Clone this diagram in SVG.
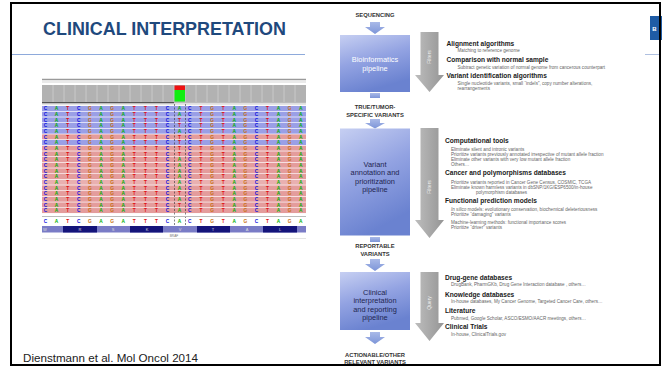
<svg xmlns="http://www.w3.org/2000/svg" xmlns:xlink="http://www.w3.org/1999/xlink" width="666" height="367" viewBox="0 0 666 367">
<style>
.ttl{font-family:"Liberation Sans",Arial,sans-serif;font-weight:bold;font-size:17.6px;fill:#1F497D}
.cit{font-family:"Liberation Sans",Arial,sans-serif;font-size:11.5px;fill:#222}
.lb{font-family:"Liberation Sans",Arial,sans-serif;font-weight:bold;font-size:5.8px;fill:#333;text-anchor:middle}
.bx{font-family:"Liberation Sans",Arial,sans-serif;font-size:7.4px;fill:#1e2550;text-anchor:middle}
.bxw{font-family:"Liberation Sans",Arial,sans-serif;font-size:7.4px;fill:#ffffff;text-anchor:middle}
.hd{font-family:"Liberation Sans",Arial,sans-serif;font-weight:bold;font-size:6.6px;fill:#1a1a1a}
.sb{font-family:"Liberation Sans",Arial,sans-serif;font-size:4.6px;fill:#666}
.gl{font-family:"Liberation Sans",Arial,sans-serif;font-size:5px;fill:#eeeeee;text-anchor:middle}
.nt{font-family:"Liberation Sans",Arial,sans-serif;font-weight:bold;font-size:4.8px;text-anchor:middle}
.C{fill:#1010e0}.A{fill:#00b000}.T{fill:#e01010}.G{fill:#c87010}
.aa{font-family:"Liberation Sans",Arial,sans-serif;font-size:4px;fill:#ddd;text-anchor:middle}
.rb{fill:#9a9fe6}.rr{fill:#e49c9c}
.barrow{fill:url(#gb)}
.garrow{fill:url(#gg)}
.box{fill:url(#gbox)}
</style>
<defs>
<linearGradient id="gbox" x1="0" y1="0" x2="0.35" y2="1">
<stop offset="0" stop-color="#c6cff2"/><stop offset="0.5" stop-color="#93a3e2"/><stop offset="1" stop-color="#6a82d0"/>
</linearGradient>
<linearGradient id="gb" x1="0" y1="0" x2="0" y2="1">
<stop offset="0" stop-color="#a9b9e8"/><stop offset="1" stop-color="#7d95d8"/>
</linearGradient>
<linearGradient id="gg" x1="0" y1="0" x2="1" y2="0">
<stop offset="0" stop-color="#bdbdbd"/><stop offset="1" stop-color="#959595"/>
</linearGradient>
<g id="rowA">
<text class="nt"><tspan class="C" x="45.5">C</tspan><tspan class="A" x="56.6">A</tspan><tspan class="T" x="67.7">T</tspan><tspan class="C" x="78.8">C</tspan><tspan class="G" x="89.9">G</tspan><tspan class="A" x="101">A</tspan><tspan class="G" x="112.1">G</tspan><tspan class="A" x="123.2">A</tspan><tspan class="T" x="134.3">T</tspan><tspan class="T" x="145.4">T</tspan><tspan class="T" x="156.5">T</tspan><tspan class="C" x="167.6">C</tspan><tspan class="A" x="179.5">A</tspan><tspan class="C" x="189.8">C</tspan><tspan class="T" x="200.9">T</tspan><tspan class="G" x="212">G</tspan><tspan class="T" x="223.1">T</tspan><tspan class="A" x="234.2">A</tspan><tspan class="G" x="245.3">G</tspan><tspan class="C" x="256.4">C</tspan><tspan class="T" x="267.5">T</tspan><tspan class="A" x="278.6">A</tspan><tspan class="G" x="289.7">G</tspan><tspan class="A" x="300.8">A</tspan></text>
</g>
<g id="rowT">
<text class="nt"><tspan class="C" x="45.5">C</tspan><tspan class="A" x="56.6">A</tspan><tspan class="T" x="67.7">T</tspan><tspan class="C" x="78.8">C</tspan><tspan class="G" x="89.9">G</tspan><tspan class="A" x="101">A</tspan><tspan class="G" x="112.1">G</tspan><tspan class="A" x="123.2">A</tspan><tspan class="T" x="134.3">T</tspan><tspan class="T" x="145.4">T</tspan><tspan class="T" x="156.5">T</tspan><tspan class="C" x="167.6">C</tspan><tspan class="T" x="179.5">T</tspan><tspan class="C" x="189.8">C</tspan><tspan class="T" x="200.9">T</tspan><tspan class="G" x="212">G</tspan><tspan class="T" x="223.1">T</tspan><tspan class="A" x="234.2">A</tspan><tspan class="G" x="245.3">G</tspan><tspan class="C" x="256.4">C</tspan><tspan class="T" x="267.5">T</tspan><tspan class="A" x="278.6">A</tspan><tspan class="G" x="289.7">G</tspan><tspan class="A" x="300.8">A</tspan></text>
</g>
</defs>

<rect x="0" y="0" width="666" height="367" fill="#fff"/>

<!-- title -->
<g id="title">
<text class="ttl" x="43" y="35" textLength="243" lengthAdjust="spacingAndGlyphs">CLINICAL INTERPRETATION</text>
<line x1="12" y1="54.5" x2="305" y2="54.5" stroke="#8eaadb" stroke-width="1"/>
</g>

<!-- IGV screenshot -->
<g id="igv">
<line x1="42" y1="79.5" x2="306" y2="79.5" stroke="#9a9a9a" stroke-width="1.5"/>
<line x1="42" y1="82" x2="306" y2="82" stroke="#d5d5d5" stroke-width="1"/>
<rect x="42" y="85" width="264" height="17" fill="#b2b2b2"/>
<g stroke="#cfcfcf" stroke-width="0.8">
<line x1="53" y1="85" x2="53" y2="102"/><line x1="64" y1="85" x2="64" y2="102"/><line x1="75" y1="85" x2="75" y2="102"/><line x1="86" y1="85" x2="86" y2="102"/><line x1="97" y1="85" x2="97" y2="102"/><line x1="108" y1="85" x2="108" y2="102"/><line x1="119" y1="85" x2="119" y2="102"/><line x1="130" y1="85" x2="130" y2="102"/><line x1="141" y1="85" x2="141" y2="102"/><line x1="152" y1="85" x2="152" y2="102"/><line x1="163" y1="85" x2="163" y2="102"/><line x1="174" y1="85" x2="174" y2="102"/><line x1="185" y1="85" x2="185" y2="102"/><line x1="196" y1="85" x2="196" y2="102"/><line x1="207" y1="85" x2="207" y2="102"/><line x1="218" y1="85" x2="218" y2="102"/><line x1="229" y1="85" x2="229" y2="102"/><line x1="240" y1="85" x2="240" y2="102"/><line x1="251" y1="85" x2="251" y2="102"/><line x1="262" y1="85" x2="262" y2="102"/><line x1="273" y1="85" x2="273" y2="102"/><line x1="284" y1="85" x2="284" y2="102"/><line x1="295" y1="85" x2="295" y2="102"/>
</g>
<rect x="174.5" y="85.5" width="10.5" height="4.5" fill="#ee1111"/>
<rect x="174.5" y="90" width="10.5" height="11.5" fill="#11ee11"/>
<line x1="42" y1="102.8" x2="174" y2="102.8" stroke="#555" stroke-width="1.4"/>
<line x1="174" y1="102.8" x2="306" y2="102.8" stroke="#bbb" stroke-width="1.4"/>
<rect x="42" y="103.6" width="264" height="1.6" fill="#e4e4e4"/>
<!-- read rows -->
<rect class="rb" x="42" y="106" width="264" height="5"/>
<rect class="rb" x="42" y="111.67" width="264" height="5"/>
<rect class="rb" x="42" y="117.34" width="264" height="5"/>
<rect class="rb" x="42" y="123.01" width="264" height="5"/>
<rect class="rb" x="42" y="128.68" width="264" height="5"/>
<rect class="rr" x="42" y="134.35" width="264" height="5"/>
<rect class="rb" x="42" y="140.02" width="264" height="5"/>
<rect class="rr" x="42" y="145.69" width="264" height="5"/>
<rect class="rr" x="42" y="151.36" width="264" height="5"/>
<rect class="rr" x="42" y="157.03" width="264" height="5"/>
<rect class="rr" x="42" y="162.7" width="264" height="5"/>
<rect class="rr" x="42" y="168.37" width="264" height="5"/>
<rect class="rr" x="42" y="174.04" width="264" height="5"/>
<rect class="rr" x="42" y="179.71" width="264" height="5" fill-opacity="0.8"/>
<rect class="rr" x="42" y="185.38" width="264" height="5"/>
<rect class="rr" x="42" y="191.05" width="264" height="5"/>
<rect class="rr" x="42" y="196.72" width="264" height="5"/>
<rect class="rr" x="42" y="202.39" width="264" height="5"/>
<rect class="rr" x="42" y="208.06" width="264" height="5"/>
<use href="#rowA" y="110.3"/>
<use href="#rowA" y="116"/>
<use href="#rowT" y="121.6"/>
<use href="#rowT" y="127.3"/>
<use href="#rowA" y="133"/>
<use href="#rowT" y="138.7"/>
<use href="#rowT" y="144.3"/>
<use href="#rowT" y="150"/>
<use href="#rowT" y="155.7"/>
<use href="#rowA" y="161.3"/>
<use href="#rowA" y="167"/>
<use href="#rowA" y="172.7"/>
<use href="#rowA" y="178.3"/>
<use href="#rowA" y="184"/>
<use href="#rowA" y="189.7"/>
<use href="#rowT" y="195.4"/>
<use href="#rowA" y="201"/>
<use href="#rowT" y="206.7"/>
<use href="#rowA" y="212.4"/>
<line x1="174.5" y1="104" x2="174.5" y2="226" stroke="#333" stroke-width="0.6" stroke-dasharray="2,1.5"/>
<line x1="185.5" y1="104" x2="185.5" y2="226" stroke="#333" stroke-width="0.6" stroke-dasharray="2,1.5"/>
<!-- reference sequence -->
<line x1="42" y1="216.5" x2="306" y2="216.5" stroke="#bcbcbc" stroke-width="1.2"/>
<use href="#rowA" y="223.2"/>
<!-- amino acid bar -->
<rect x="42" y="226" width="264" height="6.5" fill="#7a7cc6"/>
<rect x="63" y="226" width="34" height="6.5" fill="#14147a"/>
<rect x="130" y="226" width="33" height="6.5" fill="#14147a"/>
<rect x="197" y="226" width="33" height="6.5" fill="#14147a"/>
<rect x="263" y="226" width="34" height="6.5" fill="#14147a"/>
<text class="aa" x="45" y="231">W</text><text class="aa" x="80" y="231">R</text><text class="aa" x="113" y="231">S</text><text class="aa" x="147" y="231">K</text><text class="aa" x="180" y="231">V</text><text class="aa" x="213" y="231">T</text><text class="aa" x="247" y="231">A</text><text class="aa" x="280" y="231">L</text>
<text x="174" y="236.5" font-family="Liberation Sans, Arial, sans-serif" font-size="3.2" fill="#777" text-anchor="middle">BRAF</text>
<line x1="42" y1="238.5" x2="306" y2="238.5" stroke="#ddd" stroke-width="0.8"/>
</g>

<!-- right figure: pipeline -->
<g id="connectors">
<path class="barrow" d="M370,22 H380 V27 H385 L375,34 L365,27 H370 Z"/>
<rect class="barrow" x="370" y="93" width="10" height="5"/>
<path class="barrow" d="M370,119 H380 V123 H385 L375,128.5 L365,123 H370 Z"/>
<rect class="barrow" x="370" y="237" width="10" height="5"/>
<path class="barrow" d="M370,259 H380 V264 H385 L375,271 L365,264 H370 Z"/>
<path class="barrow" d="M370,332 H380 V337 H385 L375,344 L365,337 H370 Z"/>
<path class="garrow" d="M420.5,32 H438.5 V75 H444 L429.5,92 L415,75 H420.5 Z"/>
<path class="garrow" d="M420.5,128 H438.5 V220 H444 L429.5,238 L415,220 H420.5 Z"/>
<path class="garrow" d="M420.5,272 H438.5 V323 H444 L429.5,341 L415,323 H420.5 Z"/>
<text class="gl" transform="translate(431.3,57) rotate(-90)">Filters</text>
<text class="gl" transform="translate(431.3,187) rotate(-90)">Filters</text>
<text class="gl" transform="translate(431.3,303) rotate(-90)">Query</text>
</g>

<g id="sequencing">
<text class="lb" x="375" y="17">SEQUENCING</text>
</g>
<g id="bioinformatics">
<rect class="box" x="340" y="35" width="70" height="57"/>
<text class="bxw" x="375" y="62">Bioinformatics</text>
<text class="bxw" x="375" y="70.5">pipeline</text>
</g>
<g id="true-variants">
<text class="lb" x="375" y="109">TRUE/TUMOR-</text>
<text class="lb" x="375" y="117">SPECIFIC VARIANTS</text>
</g>
<g id="annotation">
<rect class="box" x="340" y="128.5" width="70" height="107"/>
<text class="bx" x="375" y="166.5">Variant</text>
<text class="bx" x="375" y="175">annotation and</text>
<text class="bx" x="375" y="183.5">prioritization</text>
<text class="bx" x="375" y="192">pipeline</text>
</g>
<g id="reportable">
<text class="lb" x="375" y="247.5">REPORTABLE</text>
<text class="lb" x="375" y="255.5">VARIANTS</text>
</g>
<g id="clinical">
<rect class="box" x="340" y="272" width="70" height="58"/>
<text class="bx" x="375" y="294.5">Clinical</text>
<text class="bx" x="375" y="303">interpretation</text>
<text class="bx" x="375" y="311.5">and reporting</text>
<text class="bx" x="375" y="320">pipeline</text>
</g>
<g id="actionable">
<text class="lb" x="375" y="357">ACTIONABLE/OTHER</text>
<text class="lb" x="375" y="364.3">RELEVANT VARIANTS</text>
</g>

<g id="filters-text-1">
<text class="hd" x="446.5" y="45.5">Alignment algorithms</text>
<text class="sb" x="457.5" y="51.5">Matching to reference genome</text>
<text class="hd" x="446.5" y="62">Comparison with normal sample</text>
<text class="sb" x="457.5" y="68.5">Subtract genetic variation of normal genome from cancerous counterpart</text>
<text class="hd" x="446.5" y="78">Variant identification algorithms</text>
<text class="sb" x="457.5" y="84.5">Single nucleotide variants, small “indels”, copy number alterations,</text>
<text class="sb" x="457.5" y="89.5">rearrangements</text>
</g>
<g id="filters-text-2">
<text class="hd" x="445" y="143">Computational tools</text>
<text class="sb" x="451" y="150.5">Eliminate silent and intronic variants</text>
<text class="sb" x="451" y="155.5">Prioritize variants previously annotated irrespective of mutant allele fraction</text>
<text class="sb" x="451" y="160.5">Eliminate other variants with very low mutant allele fraction</text>
<text class="sb" x="451" y="165.5">Others…</text>
<text class="hd" x="445" y="175">Cancer and polymorphisms databases</text>
<text class="sb" x="451" y="183.5">Prioritize variants reported in Cancer Gene Census, COSMIC, TCGA</text>
<text class="sb" x="451" y="188.5">Eliminate known harmless variants in dbSNP/1KG/ESP6500/in-house</text>
<text class="sb" x="476" y="193.5">polymorphism databases</text>
<text class="hd" x="445" y="203">Functional prediction models</text>
<text class="sb" x="451" y="210.5"><tspan font-style="italic">In silico</tspan> models: evolutionary conservation, biochemical deleteriousness</text>
<text class="sb" x="451" y="215.5">Prioritize “damaging” variants</text>
<text class="sb" x="451" y="224">Machine-learning methods: functional importance scores</text>
<text class="sb" x="451" y="229">Prioritize “driver” variants</text>
</g>
<g id="query-text">
<text class="hd" x="445" y="279.5">Drug-gene databases</text>
<text class="sb" x="451" y="285.5">DrugBank, PharmGKb, Drug Gene Interaction database , others…</text>
<text class="hd" x="445" y="296.5">Knowledge databases</text>
<text class="sb" x="451" y="302.5">In-house databases, My Cancer Genome, Targeted Cancer Care, others…</text>
<text class="hd" x="445" y="313">Literature</text>
<text class="sb" x="451" y="319.5">Pubmed, Google Scholar, ASCO/ESMO/AACR meetings, others…</text>
<text class="hd" x="445" y="329">Clinical Trials</text>
<text class="sb" x="451" y="335.5">In-house, ClinicalTrials.gov</text>
</g>

<g id="tab-b">
<rect x="650" y="16" width="12" height="24" fill="#1f5ca6"/>
<text x="654.5" y="30.5" font-family="Liberation Sans, Arial, sans-serif" font-weight="bold" font-size="6" fill="#fff" text-anchor="middle">B</text>
<line x1="645" y1="54.5" x2="660" y2="54.5" stroke="#9ab0d8" stroke-width="0.8"/>
</g>

<g id="citation">
<text class="cit" x="23" y="361.5" textLength="175" lengthAdjust="spacingAndGlyphs">Dienstmann et al. Mol Oncol 2014</text>
</g>

<rect x="11" y="3" width="649" height="362" fill="none" stroke="#000" stroke-width="2"/>
</svg>
